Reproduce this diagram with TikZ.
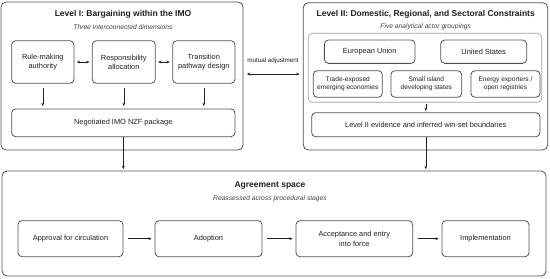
\documentclass[tikz,border=0pt]{standalone}
\usepackage{fontspec}
\setmainfont{Liberation Sans}
\usetikzlibrary{arrows.meta}
\definecolor{edge}{HTML}{505050}
\definecolor{softedge}{HTML}{A0A0A0}
\definecolor{ink}{HTML}{1E1E1E}
\tikzset{
  outerbox/.style={draw=edge, line width=0.8pt, rounded corners=5pt, inner sep=0pt},
  groupbox/.style={draw=softedge, line width=0.7pt, rounded corners=4pt, inner sep=0pt},
  itembox/.style={draw=edge, line width=0.8pt, rounded corners=4pt, align=center, text=ink, inner sep=1pt, font=\fontsize{7.4}{9}\selectfont},
  smallbox/.style={itembox, font=\fontsize{6.6}{8.3}\selectfont},
  titletext/.style={text=ink, font=\bfseries\fontsize{8.5}{10}\selectfont, inner sep=0pt},
  subtext/.style={text=ink!85, font=\itshape\fontsize{6.7}{8}\selectfont, inner sep=0pt},
  arr/.style={draw=ink, line width=0.6pt, -{Stealth[length=3.2pt,width=2.8pt]}},
  dblarr/.style={draw=ink, line width=0.6pt, {Stealth[length=3.2pt,width=2.8pt]}-{Stealth[length=3.2pt,width=2.8pt]}},
}
\begin{document}
\begin{tikzpicture}[x=1pt,y=-1pt]
\useasboundingbox (0,0) rectangle (550,279);
% outer boxes
\node[outerbox, minimum width=242pt, minimum height=148pt] (lvl1) at (122,76) {};
\node[outerbox, minimum width=244.4pt, minimum height=147.3pt] (lvl2) at (425.5,76.3) {};
\node[outerbox, minimum width=544pt, minimum height=105pt] (agr) at (274,223.5) {};
% Level I
\node[titletext] (t1) at (123,14.3) {Level I: Bargaining within the IMO};
\node[subtext] (s1) at (123,26.7) {Three interconnected dimensions};
\node[itembox, minimum width=62.3pt, minimum height=42.6pt] (rule) at (42.8,62) {Rule-making\\authority};
\node[itembox, minimum width=63pt, minimum height=42.6pt] (resp) at (123.8,62) {Responsibility\\allocation};
\node[itembox, minimum width=62.3pt, minimum height=42.6pt] (trans) at (203.8,62) {Transition\\pathway design};
\node[itembox, minimum width=223.3pt, minimum height=27.7pt] (neg) at (123.3,122.8) {Negotiated IMO NZF package};
\draw[dblarr, shorten <=2.5pt, shorten >=2.5pt] (rule) -- (resp);
\draw[dblarr, shorten <=2.5pt, shorten >=2.5pt] (resp) -- (trans);
\draw[arr, shorten <=4.5pt, shorten >=2.5pt] (rule.south) -- (rule.south |- neg.north);
\draw[arr, shorten <=4.5pt, shorten >=2.5pt] (resp.south) -- (resp.south |- neg.north);
\draw[arr, shorten <=4.5pt, shorten >=2.5pt] (trans.south) -- (trans.south |- neg.north);
% Level II
\node[titletext] (t2) at (425.7,14.3) {Level II: Domestic, Regional, and Sectoral Constraints};
\node[subtext] (s2) at (425.7,26.7) {Five analytical actor groupings};
\node[groupbox, minimum width=233.4pt, minimum height=69pt] (grp) at (425,67.8) {};
\node[itembox, minimum width=90.7pt, minimum height=23.3pt] (eu) at (369.7,51.7) {European Union};
\node[itembox, minimum width=86pt, minimum height=23.3pt] (us) at (483.7,51.7) {United States};
\node[smallbox, minimum width=69pt, minimum height=26.6pt] (trade) at (347.8,84) {Trade-exposed\\emerging economies};
\node[smallbox, minimum width=70.7pt, minimum height=26.6pt] (sids) at (426.3,84) {Small island\\developing states};
\node[smallbox, minimum width=69pt, minimum height=26.6pt] (energy) at (505.5,84) {Energy exporters /\\open registries};
\node[itembox, minimum width=228.3pt, minimum height=24pt] (evid) at (425.8,124.7) {Level II evidence and inferred win-set boundaries};
\draw[arr, shorten <=1.5pt, shorten >=1.5pt] (grp.south -| evid.north) -- (evid.north);
% mutual adjustment
\node[text=ink, font=\fontsize{6.3}{7}\selectfont, inner sep=0pt] (mut) at (273,60.5) {mutual adjustment};
\draw[dblarr, shorten <=3.5pt, shorten >=3.5pt] (lvl1.east |- 0,74) coordinate (mA) -- (lvl2.west |- 0,74) coordinate (mB);
% Agreement space
\node[titletext] (t3) at (270,185.7) {Agreement space};
\node[subtext] (s3) at (270,199) {Reassessed across procedural stages};
\node[itembox, minimum width=105pt, minimum height=36pt] (appr) at (70.5,238.7) {Approval for circulation};
\node[itembox, minimum width=107pt, minimum height=36pt] (adop) at (208.5,238.7) {Adoption};
\node[itembox, minimum width=116.7pt, minimum height=36pt, font=\fontsize{7.4}{10}\selectfont] (acc) at (354.3,238.7) {Acceptance and entry\\into force};
\node[itembox, minimum width=87pt, minimum height=36pt] (impl) at (485.5,238.7) {Implementation};
\draw[arr, shorten <=4.5pt, shorten >=3pt] (appr) -- (adop);
\draw[arr, shorten <=4.5pt, shorten >=3pt] (adop) -- (acc);
\draw[arr, shorten <=4.5pt, shorten >=3pt] (acc) -- (impl);
% to agreement space
\draw[arr, shorten >=1.5pt] (neg.south) -- (neg.south |- agr.north);
\draw[arr, shorten >=1.5pt] (evid.south) -- (evid.south |- agr.north);
\end{tikzpicture}
\end{document}
